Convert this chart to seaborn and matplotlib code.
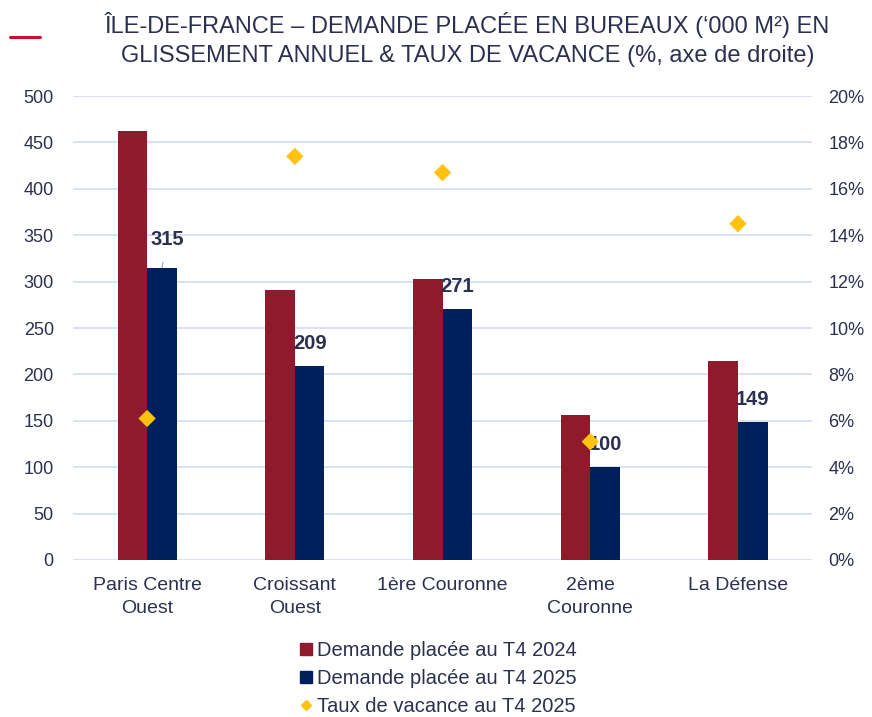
import numpy as np
import pandas as pd
import seaborn as sns
import matplotlib.pyplot as plt
from matplotlib.lines import Line2D

categories = ["Paris Centre\nOuest", "Croissant\nOuest", "1ère Couronne", "2ème\nCouronne", "La Défense"]
demande_2024 = [462, 291, 303, 156, 215]
demande_2025 = [315, 209, 271, 100, 149]
vacance_2025 = [6.1, 17.4, 16.7, 5.1, 14.5]
series = ["Demande placée au T4 2024", "Demande placée au T4 2025", "Taux de vacance au T4 2025"]

red = "#8e1a2c"
navy = "#00205c"
gold = "#ffc20e"
txt = "#2b3050"
grid = "#d5daf1"

df = pd.DataFrame({
    "zone": categories * 2,
    "valeur": demande_2024 + demande_2025,
    "serie": [series[0]] * 5 + [series[1]] * 5,
})

sns.set_style("white")
plt.rcParams["font.family"] = ["Liberation Sans", "DejaVu Sans"]

fig = plt.figure(figsize=(8.72, 7.17), dpi=100)
ax = fig.add_axes([0.084, 0.219, 0.847, 0.647])

sns.barplot(data=df, x="zone", y="valeur", hue="serie", palette=[red, navy],
            width=0.4, saturation=1, linewidth=0, ax=ax, legend=False)
ax.set_ylim(0, 500)
ax.set_yticks(np.arange(0, 501, 50))
ax.set_xlim(-0.5, 4.5)
ax.yaxis.grid(True, color=grid, lw=1.2)
ax.set_axisbelow(True)
ax.set_xlabel("")
ax.set_ylabel("")
sns.despine(ax=ax, left=True, bottom=True)
ax.tick_params(axis="y", length=0, labelsize=13, labelcolor=txt, pad=14)
ax.tick_params(axis="x", length=0, labelsize=14, labelcolor=txt, pad=12)
for lab in ax.get_xticklabels():
    lab.set_linespacing(1.5)
    lab.set_verticalalignment("top")

# étiquettes des barres 2025
for i, bar in enumerate(ax.containers[1]):
    xc = bar.get_x() + bar.get_width() / 2
    top = bar.get_height()
    if i == 0:
        ax.annotate(f"{demande_2025[i]:.0f}", xy=(xc, top), xytext=(4, 20),
                    textcoords="offset points", ha="center", va="center",
                    fontsize=14.5, fontweight="bold", color=txt,
                    arrowprops=dict(arrowstyle="-", color="#8fa3d6", lw=0.8,
                                    shrinkA=7, shrinkB=0))
    else:
        ax.annotate(f"{demande_2025[i]:.0f}", xy=(xc, top), xytext=(0, 16),
                    textcoords="offset points", ha="center", va="center",
                    fontsize=14.5, fontweight="bold", color=txt)

ax2 = ax.twinx()
sns.scatterplot(x=np.arange(len(categories)), y=vacance_2025, marker="D", s=78,
                color=gold, edgecolor="none", ax=ax2, legend=False, zorder=5)
ax2.set_ylim(0, 20)
ax2.set_yticks(np.arange(0, 21, 2))
ax2.set_yticklabels([f"{v}%" for v in range(0, 21, 2)])
ax2.set_xlim(-0.5, 4.5)
sns.despine(ax=ax2, left=True, bottom=True, right=True)
ax2.tick_params(axis="y", length=0, labelsize=13, labelcolor=txt, pad=12)
ax2.set_ylabel("")

# titre
fig.text(0.536, 0.945,
         "ÎLE-DE-FRANCE – DEMANDE PLACÉE EN BUREAUX (‘000 M²) EN\nGLISSEMENT ANNUEL & TAUX DE VACANCE (%, axe de droite)",
         ha="center", va="center", fontsize=17, color=txt, linespacing=1.45)
fig.add_artist(Line2D([0.012, 0.046], [0.949, 0.949], color="#c8102e", lw=2.2))

handles = [
    Line2D([], [], marker="s", ls="none", color=red, markersize=8),
    Line2D([], [], marker="s", ls="none", color=navy, markersize=8),
    Line2D([], [], marker="D", ls="none", color=gold, markersize=5),
]
leg = fig.legend(handles, series, loc="center", bbox_to_anchor=(0.503, 0.054),
                 frameon=False, fontsize=14.5, labelspacing=0.45, handlelength=0.6,
                 handletextpad=0.25, borderpad=0)
for t in leg.get_texts():
    t.set_color(txt)

fig.savefig("out.png", dpi=100, facecolor="white")
